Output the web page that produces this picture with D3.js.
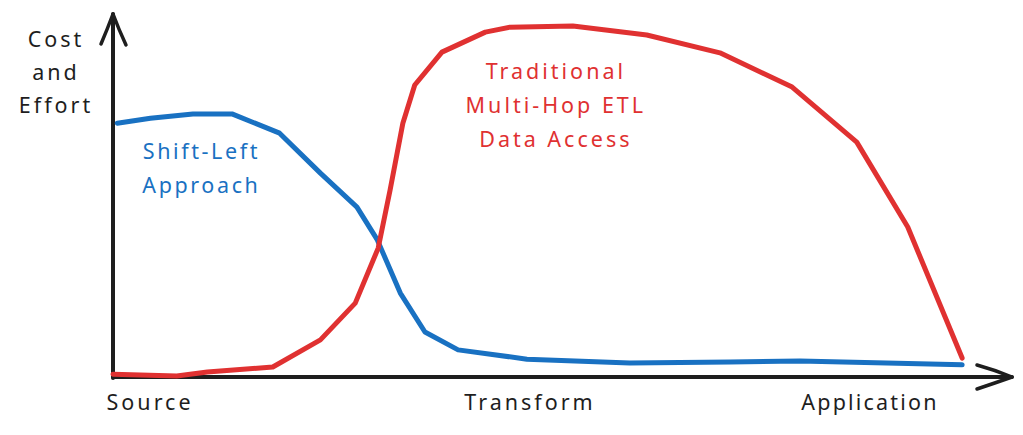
<!DOCTYPE html>
<html>
<head>
<meta charset="utf-8">
<script src="https://cdn.jsdelivr.net/npm/d3@7"></script>
<style>
  html, body { margin: 0; padding: 0; background: #ffffff; }
  svg { display: block; }
  text { font-family: "Noto Sans", "DejaVu Sans", sans-serif; }
</style>
</head>
<body>
<svg id="chart" width="1023" height="435"></svg>
<script>
// ---------- data ----------
const axisTitleLines = ["Cost", "and", "Effort"];
const tickLabels = ["Source", "Transform", "Application"];
const tickValues = [4.3, 49.0, 89.0];

const shiftLeftName = ["Shift-Left", "Approach"];
const shiftLeftX = [0.5, 4.4, 9.4, 14.0, 19.6, 24.4, 28.7, 31.1, 33.8, 36.7, 40.6, 48.7, 60.8, 72.6, 80.8, 99.9];
const shiftLeftY = [71.1, 72.5, 73.7, 73.7, 68.3, 57.1, 47.6, 38.4, 23.5, 12.6, 7.6, 5.0, 3.9, 4.2, 4.5, 3.4];

const traditionalName = ["Traditional", "Multi-Hop ETL", "Data Access"];
const traditionalX = [0.0, 7.5, 11.1, 18.8, 24.4, 28.5, 31.2, 32.6, 34.1, 35.5, 38.7, 43.8, 46.7, 54.1, 62.8, 71.4, 79.9, 87.5, 93.5, 99.9];
const traditionalY = [0.8, 0.3, 1.4, 2.8, 10.4, 20.7, 36.1, 52.4, 71.1, 81.8, 91.0, 96.6, 98.0, 98.3, 95.8, 90.8, 81.2, 65.8, 42.0, 5.3];

// ---------- layout ----------
const svg = d3.select("#chart");
const x0 = 113, x1 = 963, y0 = 377, yTop = 20;
const x = d3.scaleLinear().domain([0, 100]).range([x0, x1]);
const y = d3.scaleLinear().domain([0, 100]).range([y0, yTop]);

const ink = "#1e1e1e", blue = "#1971c2", red = "#e03131";
const fontSize = 21.5;

// axes (hand-drawn style with arrowheads)
const g = svg.append("g");
g.append("path")
  .attr("d", `M${x0},${y0 + 1} L${x0},${14}`)
  .attr("stroke", ink).attr("stroke-width", 4).attr("fill", "none").attr("stroke-linecap", "round");
g.append("path")
  .attr("d", `M${x0 - 12},${44} Q${x0 - 6},${30} ${x0},${14} Q${x0 + 6},${30} ${x0 + 13},${45}`)
  .attr("stroke", ink).attr("stroke-width", 3.5).attr("fill", "none").attr("stroke-linecap", "round").attr("stroke-linejoin", "round");

g.append("path")
  .attr("d", `M${x0},${y0} L${1012},${y0}`)
  .attr("stroke", ink).attr("stroke-width", 4).attr("fill", "none").attr("stroke-linecap", "round");
g.append("path")
  .attr("d", `M${977},${365} Q${995},${370} ${1012},${y0} Q${995},${383} ${977},${389}`)
  .attr("stroke", ink).attr("stroke-width", 3.5).attr("fill", "none").attr("stroke-linecap", "round").attr("stroke-linejoin", "round");

// x tick labels via d3 axis
const xAxis = d3.axisBottom(x)
  .tickValues(tickValues)
  .tickFormat((d, i) => tickLabels[i])
  .tickSize(0)
  .tickPadding(0);
const axG = svg.append("g").attr("transform", `translate(0,${y0})`).call(xAxis);
axG.select(".domain").remove();
axG.selectAll("text")
  .attr("dy", null)
  .attr("y", 33)
  .attr("fill", ink)
  .style("font-size", fontSize + "px")
  .style("letter-spacing", (d, i) => i === 2 ? "2.2px" : "3px")
  .style("font-family", '"Noto Sans", sans-serif');

// y axis title
svg.append("text")
  .attr("text-anchor", "middle")
  .attr("fill", ink)
  .style("font-size", fontSize + "px")
  .style("letter-spacing", "3px")
  .selectAll("tspan").data(axisTitleLines).join("tspan")
  .attr("x", 56)
  .attr("y", (d, i) => 47 + i * 33)
  .text(d => d);

// lines
const line = d3.line().x(d => x(d[0])).y(d => y(d[1]));
const blueData = shiftLeftX.map((v, i) => [v, shiftLeftY[i]]);
const redData = traditionalX.map((v, i) => [v, traditionalY[i]]);

svg.append("path").datum(blueData)
  .attr("d", line).attr("fill", "none").attr("stroke", blue)
  .attr("stroke-width", 5).attr("stroke-linecap", "round").attr("stroke-linejoin", "round");
svg.append("path").datum(redData)
  .attr("d", line).attr("fill", "none").attr("stroke", red)
  .attr("stroke-width", 5).attr("stroke-linecap", "round").attr("stroke-linejoin", "round");

// series labels
svg.append("text")
  .attr("text-anchor", "middle").attr("fill", blue)
  .style("font-size", fontSize + "px").style("letter-spacing", "2.6px")
  .selectAll("tspan").data(shiftLeftName).join("tspan")
  .attr("x", x(10.4))
  .attr("y", (d, i) => y(61) + i * 34)
  .text(d => d);

svg.append("text")
  .attr("text-anchor", "middle").attr("fill", red)
  .style("font-size", fontSize + "px").style("letter-spacing", "3px")
  .selectAll("tspan").data(traditionalName).join("tspan")
  .attr("x", x(52.1))
  .attr("y", (d, i) => y(83.5) + i * 34)
  .text(d => d);
</script>
</body>
</html>
